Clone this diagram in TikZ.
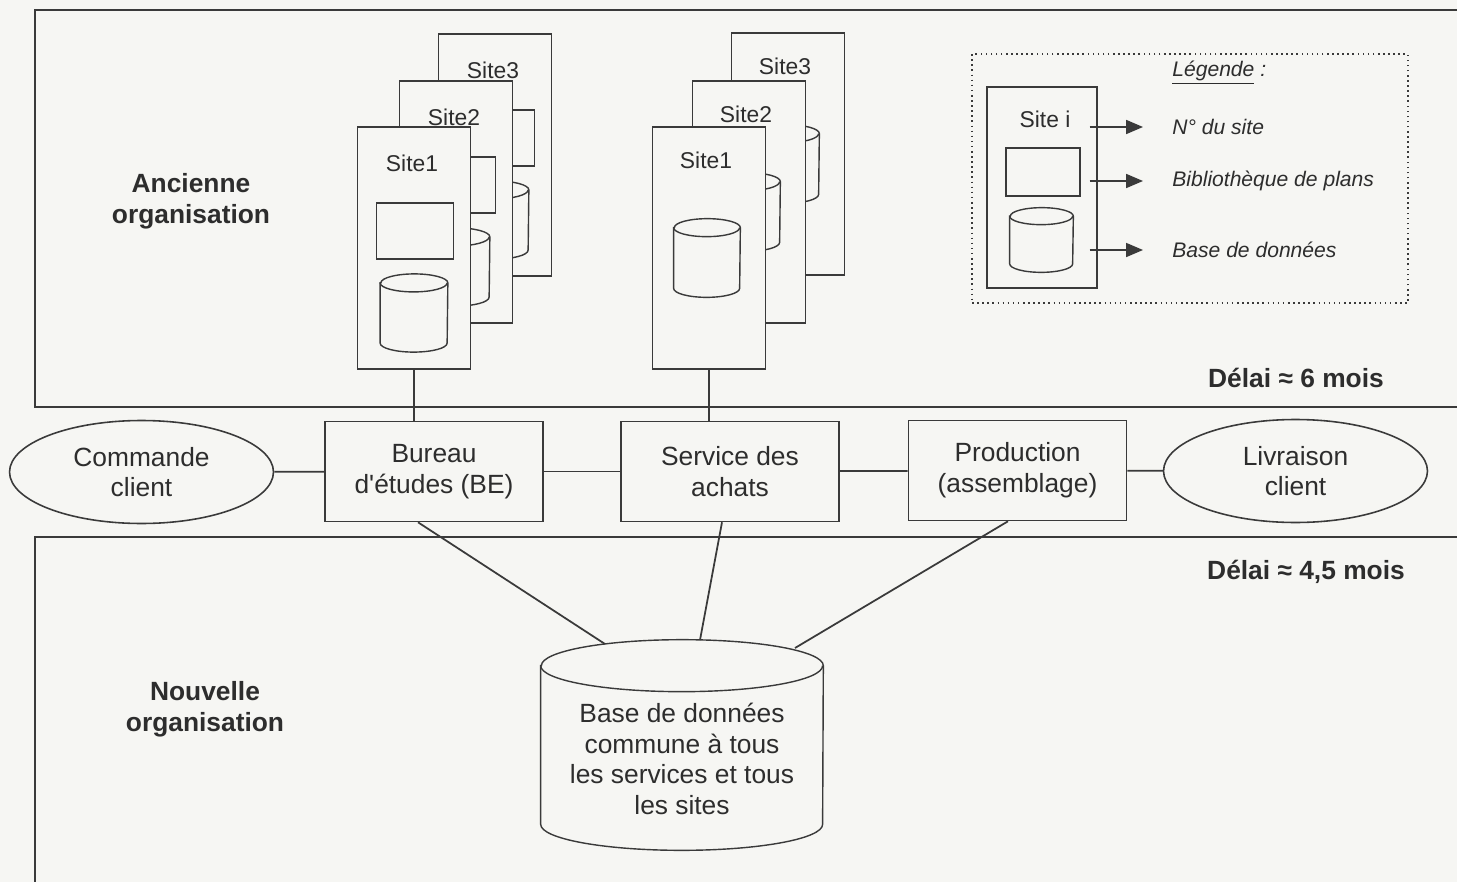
\documentclass[tikz,border=0pt]{standalone}
\usepackage{fontspec}
\setmainfont{Liberation Sans}
\usetikzlibrary{positioning,arrows.meta,shapes.geometric,calc}
\definecolor{paper}{RGB}{246,246,243}
\definecolor{linegray}{RGB}{58,58,58}
\definecolor{inkgray}{RGB}{45,45,45}
\newcommand{\dgmfont}{\fontsize{15}{17.5}\selectfont}
\newcommand{\cardfont}{\fontsize{13}{15}\selectfont}
\newcommand{\keyfont}{\fontsize{12}{14}\selectfont}
% outline of a database drum on the box of a named node: node, x radius, y radius
\newcommand{\cylpath}[3]{%
    \draw[cylline] ([yshift=-#3]#1.north west) -- ([yshift=#3]#1.south west)
        arc[start angle=180, end angle=360, x radius=#2, y radius=#3]
        -- ([yshift=-#3]#1.north east)
        arc[start angle=0, end angle=180, x radius=#2, y radius=#3] -- cycle;
    \draw[cylline, fill=none] ([yshift=-#3]#1.north west)
        arc[start angle=180, end angle=360, x radius=#2, y radius=#3];
}
\tikzset{
    orgframe/.style={draw=linegray, line width=1.3pt},
    sitecard/.style={draw=linegray, fill=paper, line width=0.8pt, minimum width=2.26cm, minimum height=4.84cm, inner sep=0pt},
    sitename/.style={font=\cardfont, text=inkgray, inner sep=1pt},
    planbox/.style={draw=linegray, fill=paper, line width=0.8pt, minimum width=1.54cm, minimum height=1.12cm, inner sep=0pt},
    dbslot/.style={rectangle, inner sep=0pt},
    cylline/.style={draw=linegray, fill=paper, line width=0.8pt},
    procbox/.style={draw=linegray, fill=paper, line width=0.9pt, align=center, font=\dgmfont, text=inkgray, minimum width=4.36cm, minimum height=2cm},
    clientell/.style={draw=linegray, fill=paper, line width=0.9pt, ellipse, align=center, font=\dgmfont, text=inkgray, minimum width=5.28cm, minimum height=2.06cm},
    orglabel/.style={font=\dgmfont\bfseries, text=inkgray, align=center},
    delaylabel/.style={font=\dgmfont\bfseries, text=inkgray, anchor=east},
    legbox/.style={draw=linegray, dotted, line width=0.9pt},
    legtext/.style={font=\keyfont\itshape, text=inkgray, anchor=west, inner sep=0pt},
    legarrow/.style={draw=linegray, line width=1pt, -{Triangle[length=3.4mm,width=2.8mm]}},
    wire/.style={draw=linegray, line width=1pt}
}

\begin{document}
\begin{tikzpicture}[x=0.02cm, y=-0.02cm]
    \fill[paper] (0,0) rectangle (1457,882);
    \useasboundingbox (0,0) rectangle (1457,882);

    % the two organisations
    \draw[orgframe] (1457,10) -- (35,10) -- (35,407) -- (1457,407);
    \draw[orgframe] (1457,537) -- (35,537) -- (35,882);
    \node[orglabel] (oldorg) at (191,201) {Ancienne\\organisation};
    \node[orglabel] (neworg) at (205,709) {Nouvelle\\organisation};
    \node[delaylabel] (olddelay) at (1390,378) {Délai ≈ 6 mois};
    \node[delaylabel] (newdelay) at (1411,572) {Délai ≈ 4,5 mois};

    % sites du bureau d'etudes
    \foreach \i/\dx/\dy in {3/81/-93, 2/42/-46, 1/0/0} {
        \node[sitecard] (be\i) at (414+\dx,248+\dy) {};
        \node[sitename] (be\i name) at (412+\dx,163+\dy) {Site\i};
        \node[planbox] (be\i plan) at (415+\dx,231+\dy) {};
        \node[dbslot, minimum width=1.34cm, minimum height=1.55cm] (be\i db) at (414+\dx,313+\dy) {};
        \cylpath{be\i db}{0.67cm}{0.18cm}
    }

    % sites du service des achats
    \foreach \i/\dx/\dy in {3/79/-94, 2/40/-46, 1/0/0} {
        \node[sitecard] (ac\i) at (709+\dx,248+\dy) {};
        \node[sitename] (ac\i name) at (706+\dx,160+\dy) {Site\i};
        \node[dbslot, minimum width=1.32cm, minimum height=1.56cm] (ac\i db) at (707+\dx,258+\dy) {};
        \cylpath{ac\i db}{0.66cm}{0.18cm}
    }

    % legende
    \node[legbox, minimum width=8.72cm, minimum height=4.98cm] (legend) at (1190,178.5) {};
    \node[sitecard, minimum width=2.2cm, minimum height=4.02cm] (legcard) at (1042,187.5) {};
    \node[sitename] (legname) at (1045,119) {Site i};
    \node[planbox, minimum width=1.48cm, minimum height=0.96cm] (legplan) at (1043,172) {};
    \node[dbslot, minimum width=1.26cm, minimum height=1.28cm] (legdb) at (1041.5,240) {};
    \cylpath{legdb}{0.63cm}{0.17cm}
    \node[legtext] (legtitle) at (1172,73) {\underline{Légende} :};
    \node[legtext] (legnum) at (1172,127) {N° du site};
    \node[legtext] (legplans) at (1172,181) {Bibliothèque de plans};
    \node[legtext] (legbase) at (1172,250) {Base de données};
    \draw[legarrow, shorten <=-0.16cm, shorten >=0.58cm] (legcard.east |- legnum) -- (legnum.west);
    \draw[legarrow, shorten <=-0.16cm, shorten >=0.58cm] (legcard.east |- legplans) -- (legplans.west);
    \draw[legarrow, shorten <=-0.16cm, shorten >=0.58cm] (legcard.east |- legbase) -- (legbase.west);

    % chaine de la commande
    \node[clientell] (commande) at (141.5,472) {Commande\\client};
    \node[procbox] (be) at (434,471.5) {Bureau\\d\textquotesingle études (BE)};
    \node[procbox] (achats) at (730,471.5) {Service des\\achats};
    \node[procbox] (production) at (1017.5,470.5) {Production\\(assemblage)};
    \node[clientell] (livraison) at (1295.5,471) {Livraison\\client};
    \draw[wire] (commande) -- (be);
    \draw[wire] (be) -- (achats);
    \draw[wire] (achats) -- (production);
    \draw[wire] (production) -- (livraison);
    \draw[wire] (be1.south) -- (be1.south |- be.north);
    \draw[wire] (ac1.south) -- (ac1.south |- achats.north);

    % base commune
    \node[dbslot, minimum width=5.64cm, minimum height=4.2cm] (db) at (682,745) {};
    \cylpath{db}{2.82cm}{0.52cm}
    \node[font=\dgmfont, text=inkgray, align=center] (dbtext) at (682,759) {Base de données\\commune à tous\\les services et tous\\les sites};
    \draw[wire] ([xshift=-0.32cm]be.south) -- ([shift={(-77,-101)}]db.center);
    \draw[wire] ([xshift=-0.16cm]achats.south) -- ([shift={(18,-105)}]db.center);
    \draw[wire] ([xshift=-0.19cm]production.south) -- ([shift={(113,-97)}]db.center);
\end{tikzpicture}
\end{document}
